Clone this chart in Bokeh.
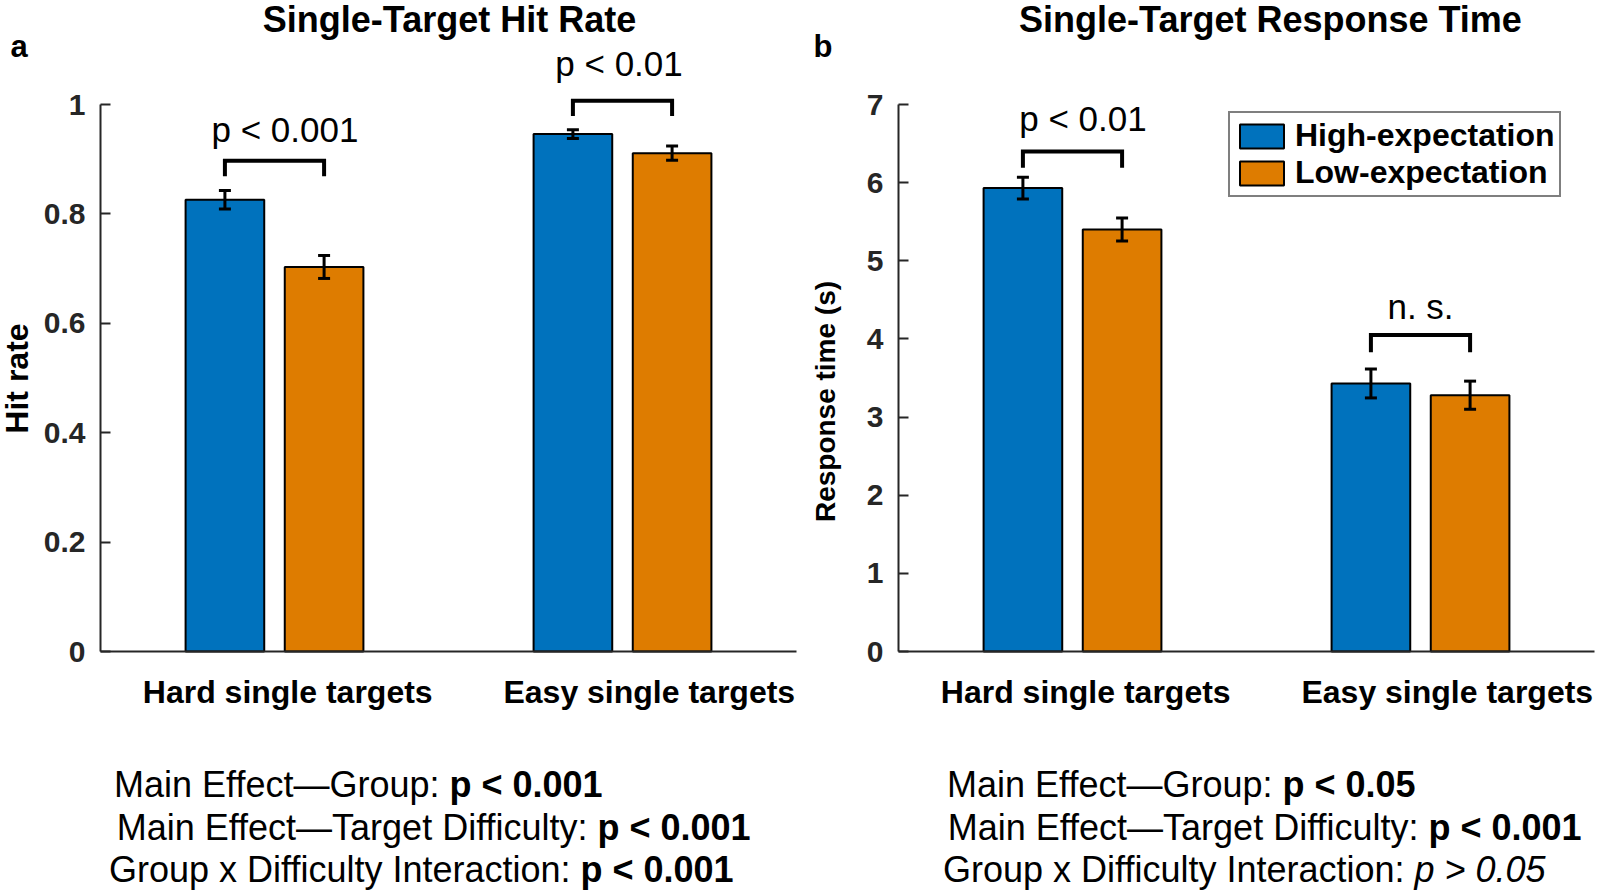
import math
from bokeh.plotting import figure
from bokeh.models import (ColumnDataSource, Whisker, TeeHead, Label, Legend,
                          LegendItem, FixedTicker, Range1d)
from bokeh.layouts import row
from bokeh.transform import dodge
from bokeh.embed import file_html
from bokeh.resources import INLINE
from bokeh.core.properties import value

# ---------------- data ----------------
categories = ["Hard single targets", "Easy single targets"]
series_names = ["High-expectation", "Low-expectation"]

hit_high = [0.826, 0.946]
hit_low = [0.703, 0.911]
hit_high_err = [0.017, 0.008]
hit_low_err = [0.021, 0.013]
hit_ticks = [0, 0.2, 0.4, 0.6, 0.8, 1]
hit_tick_labels = ["0", "0.2", "0.4", "0.6", "0.8", "1"]
hit_bracket_base = [0.869, 0.979]
hit_bracket_top = [0.897, 1.007]
hit_sig_labels = ["p < 0.001", "p < 0.01"]
hit_sig_y = [0.955, 1.075]

rt_high = [5.93, 3.43]
rt_low = [5.40, 3.28]
rt_high_err = [0.14, 0.185]
rt_low_err = [0.147, 0.18]
rt_ticks = [0, 1, 2, 3, 4, 5, 6, 7]
rt_tick_labels = ["0", "1", "2", "3", "4", "5", "6", "7"]
rt_bracket_base = [6.19, 3.83]
rt_bracket_top = [6.40, 4.05]
rt_sig_labels = ["p < 0.01", "n. s."]
rt_sig_y = [6.82, 4.415]

hit_stats_text = ["Main Effect\u2014Group:", "Main Effect\u2014Target Difficulty:",
                  "Group x Difficulty Interaction:"]
hit_stats_p = ["p < 0.001", "p < 0.001", "p < 0.001"]
hit_stats_style = ["bold", "bold", "bold"]
rt_stats_text = ["Main Effect\u2014Group:", "Main Effect\u2014Target Difficulty:",
                 "Group x Difficulty Interaction:"]
rt_stats_p = ["p < 0.05", "p < 0.001", "p > 0.05"]
rt_stats_style = ["bold", "bold", "italic"]

# ---------------- style / layout ----------------
BLUE = "#0072BD"
ORANGE = "#DE7C00"
AXC = "#262626"
FONT = "Liberation Sans"
FIG_H = 890
BASE_Y = 651      # pixel row of value 0
AXIS_TOP = 104    # pixel row of the top tick
PX_X = 348.0      # pixels per x unit
BAR_W = 0.226
OFF = 0.1425
CAT_DX = [0.038, 0.077]
STATS_ROWS = [784, 827, 869]
STATS_SIZE = 36
SPACE_W = 10
TITLE_Y = 19


def make_panel(fig_left, fig_w, axis_left, axis_max, high, low, high_err, low_err,
               ticks, tick_labels, br_base, br_top, sig_labels, sig_y, sig_dx,
               title, title_cx, letter, letter_x, ylabel, ylabel_size, ylabel_cx,
               ylabel_cy, stats_text, stats_p, stats_style, stats_split, legend=False):
    py = (BASE_Y - AXIS_TOP) / axis_max   # pixels per y unit
    x0 = 0.5 - (axis_left - fig_left) / PX_X
    x1 = 0.5 + (fig_left + fig_w - axis_left) / PX_X
    y0 = -(FIG_H - BASE_Y) / py
    y1 = BASE_Y / py
    p = figure(width=fig_w, height=FIG_H, output_backend="svg", toolbar_location=None,
               x_range=Range1d(x0, x1), y_range=Range1d(y0, y1),
               min_border_left=0, min_border_right=0, min_border_top=0,
               min_border_bottom=0)
    p.outline_line_color = None
    p.grid.visible = False
    p.background_fill_color = "white"
    p.border_fill_color = "white"

    def dx(ax):
        return 0.5 + (ax - axis_left) / PX_X

    def dy(ay):
        return (BASE_Y - ay) / py

    pos = [i + 1 for i in range(len(categories))]
    src = ColumnDataSource(dict(pos=pos, high=high, low=low))
    r_high = p.vbar(x=dodge("pos", -OFF), top="high", width=BAR_W, source=src,
                    fill_color=BLUE, line_color="black", line_width=2)
    r_low = p.vbar(x=dodge("pos", OFF), top="low", width=BAR_W, source=src,
                   fill_color=ORANGE, line_color="black", line_width=2)

    base = [x - OFF for x in pos] + [x + OFF for x in pos]
    vals = high + low
    errs = high_err + low_err
    esrc = ColumnDataSource(dict(base=base,
                                 lower=[v - e for v, e in zip(vals, errs)],
                                 upper=[v + e for v, e in zip(vals, errs)]))
    w = Whisker(source=esrc, base="base", lower="lower", upper="upper",
                line_color="black", line_width=3, level="overlay",
                upper_head=TeeHead(size=12, line_width=3, line_color="black"),
                lower_head=TeeHead(size=12, line_width=3, line_color="black"))
    p.add_layout(w)

    xs = [[x - OFF, x - OFF, x + OFF, x + OFF] for x in pos]
    ys = [[b, t, t, b] for b, t in zip(br_base, br_top)]
    p.multi_line(xs=xs, ys=ys, line_color="black", line_width=4, line_join="miter")

    p.text(x=[x + d for x, d in zip(pos, sig_dx)], y=sig_y, text=sig_labels,
           text_font=value(FONT), text_font_size="35px", text_align="center",
           text_baseline="middle", text_color="black")

    # axes drawn at fixed data locations
    yax = p.yaxis[0]
    yax.fixed_location = 0.5
    yax.ticker = FixedTicker(ticks=ticks)
    yax.major_label_overrides = {t: l for t, l in zip(ticks, tick_labels)}
    yax.bounds = (0, axis_max)
    yax.axis_line_color = AXC
    yax.axis_line_width = 2
    yax.major_tick_line_color = AXC
    yax.major_tick_line_width = 2
    yax.major_tick_in = 10
    yax.major_tick_out = 0
    yax.minor_tick_line_color = None
    yax.major_label_standoff = 15
    yax.major_label_text_font = FONT
    yax.major_label_text_font_style = "bold"
    yax.major_label_text_font_size = "30px"
    yax.major_label_text_color = AXC

    xax = p.xaxis[0]
    xax.fixed_location = 0
    cat_ticks = [x + d for x, d in zip(pos, CAT_DX)]
    xax.ticker = FixedTicker(ticks=cat_ticks)
    xax.major_label_overrides = {t: c for t, c in zip(cat_ticks, categories)}
    xax.bounds = (0.5, 2.5)
    xax.axis_line_color = AXC
    xax.axis_line_width = 2
    xax.major_tick_line_color = None
    xax.major_tick_in = 0
    xax.major_tick_out = 0
    xax.minor_tick_line_color = None
    xax.major_label_standoff = 22
    xax.major_label_text_font = FONT
    xax.major_label_text_font_style = "bold"
    xax.major_label_text_font_size = "32px"
    xax.major_label_text_color = "black"

    # title, panel letter, y label
    p.add_layout(Label(x=dx(title_cx), y=dy(TITLE_Y), text=title, text_font=FONT,
                       text_font_style="bold", text_font_size="36px",
                       text_align="center", text_baseline="middle",
                       text_color="black"))
    p.add_layout(Label(x=dx(letter_x), y=dy(46), text=letter, text_font=FONT,
                       text_font_style="bold", text_font_size="31px",
                       text_align="left", text_baseline="middle",
                       text_color="black"))
    p.add_layout(Label(x=dx(ylabel_cx), y=dy(ylabel_cy), text=ylabel, text_font=FONT,
                       text_font_style="bold", text_font_size=ylabel_size,
                       angle=math.pi / 2, text_align="center", text_baseline="middle",
                       text_color="black"))

    # statistics text below the axes
    for txt, pv, st, cy, sx in zip(stats_text, stats_p, stats_style, STATS_ROWS,
                                   stats_split):
        p.add_layout(Label(x=dx(sx - SPACE_W), y=dy(cy), text=txt, text_font=FONT,
                           text_font_size=f"{STATS_SIZE}px", text_align="right",
                           text_baseline="middle", text_color="black"))
        p.add_layout(Label(x=dx(sx), y=dy(cy), text=pv, text_font=FONT,
                           text_font_size=f"{STATS_SIZE}px", text_font_style=st,
                           text_align="left", text_baseline="middle",
                           text_color="black"))

    if legend:
        lg = Legend(items=[LegendItem(label=series_names[0], renderers=[r_high]),
                           LegendItem(label=series_names[1], renderers=[r_low])],
                    location=(1228 - fig_left, FIG_H - 197),
                    margin=0, padding=4, spacing=0, glyph_width=55, glyph_height=30,
                    label_standoff=6, label_text_font=FONT,
                    label_text_font_style="bold", label_text_font_size="32px",
                    label_text_color="black", label_text_baseline="middle",
                    border_line_color="black", border_line_width=2,
                    background_fill_color="white", background_fill_alpha=1.0)
        p.add_layout(lg)
    return p


p1 = make_panel(0, 800, 100, 1.0, hit_high, hit_low, hit_high_err, hit_low_err,
                hit_ticks, hit_tick_labels, hit_bracket_base, hit_bracket_top,
                hit_sig_labels, hit_sig_y, [0.03, -0.01],
                "Single-Target Hit Rate", 449, "a", 10, "Hit rate", "32px", 16, 378,
                hit_stats_text, hit_stats_p, hit_stats_style, [449, 597, 580])
p2 = make_panel(800, 798, 898, 7.0, rt_high, rt_low, rt_high_err, rt_low_err,
                rt_ticks, rt_tick_labels, rt_bracket_base, rt_bracket_top,
                rt_sig_labels, rt_sig_y, [0.03, 0.0],
                "Single-Target Response Time", 1270, "b", 813, "Response time (s)",
                "28px", 825, 401, rt_stats_text, rt_stats_p, rt_stats_style,
                [1282, 1428, 1414], legend=True)

layout = row(p1, p2)
open("out.html", "w").write(file_html(layout, INLINE))
